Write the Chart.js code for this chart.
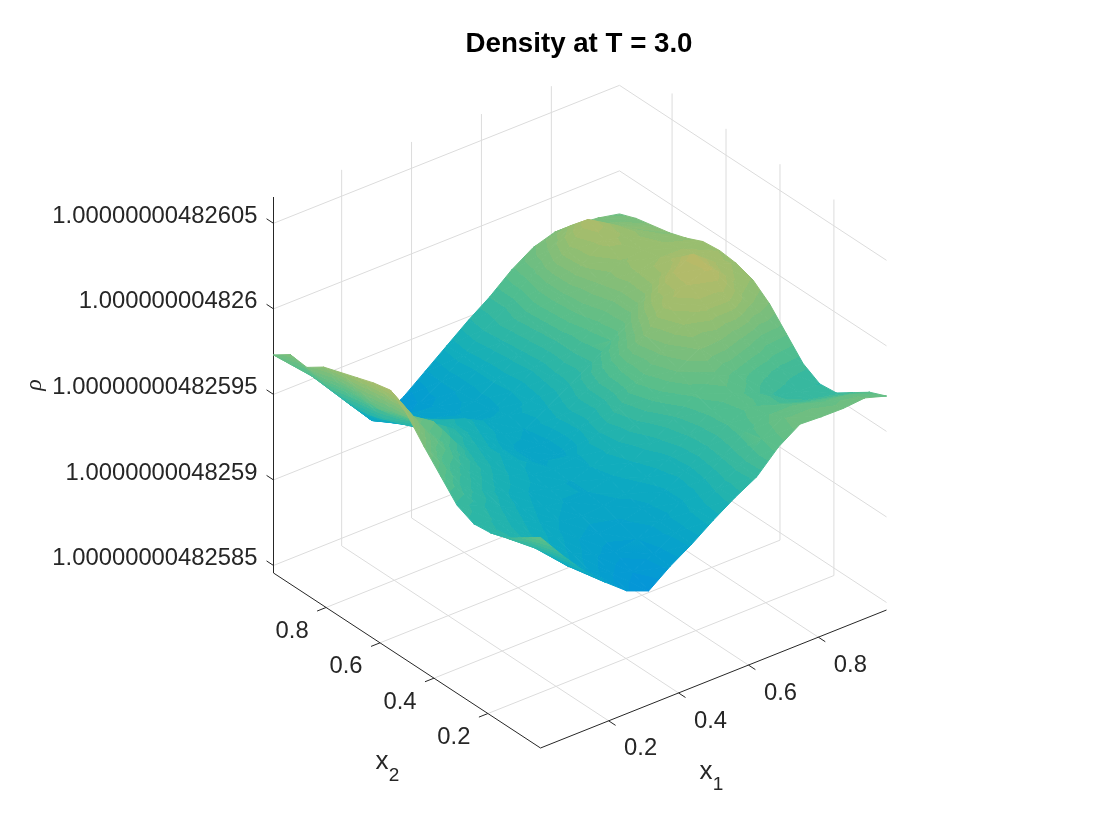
<!DOCTYPE html>
<html>
<head>
  <meta charset="UTF-8">
  <title>Density at T = 3.0</title>
  <script src="https://cdn.jsdelivr.net/npm/chart.js@4/dist/chart.umd.min.js"></script>
  <style>
    html, body { margin: 0; padding: 0; background: #fff; }
    #box { width: 1120px; height: 840px; }
  </style>
</head>
<body>
<div id="box"><canvas id="myChart" width="1120" height="840"></canvas></div>
<script>
// tick labels
var x1Ticks = [0.2, 0.4, 0.6, 0.8];
var x2Ticks = [0.2, 0.4, 0.6, 0.8];
var rhoTickLabels = ["1.00000000482585", "1.0000000048259", "1.00000000482595", "1.000000004826", "1.00000000482605"];
// where those ticks sit, as a share of the rho axis height
var rhoTicks = [0.02, 0.2475, 0.475, 0.7025, 0.93];

// surface values, as a share of the rho axis height
// one row per x2 step (bottom to top), one column per x1 step
var rows = [
  [.56, .49, .425, .372, .326, .303, .346, .382, .423, .46, .492, .548, .586, .583, .582, .587, .569],
  [.53, .47, .41, .375, .345, .325, .35, .385, .42, .455, .495, .54, .575, .575, .57, .565, .55],
  [.50, .46, .42, .39, .365, .35, .36, .385, .41, .445, .49, .53, .555, .555, .54, .53, .52],
  [.485, .46, .43, .405, .38, .37, .375, .39, .41, .44, .485, .525, .545, .53, .51, .50, .49],
  [.48, .465, .44, .415, .395, .385, .39, .40, .42, .445, .49, .53, .55, .53, .50, .49, .485],
  [.50, .475, .45, .425, .405, .395, .395, .41, .43, .46, .50, .545, .57, .55, .53, .515, .51],
  [.55, .50, .465, .435, .415, .40, .395, .415, .44, .48, .53, .58, .615, .61, .59, .565, .56],
  [.60, .53, .49, .455, .43, .41, .40, .41, .445, .495, .55, .60, .65, .675, .675, .635, .61],
  [.655, .58, .52, .47, .44, .42, .39, .385, .435, .48, .545, .615, .675, .705, .725, .67, .645],
  [.69, .59, .56, .48, .45, .42, .39, .385, .44, .48, .53, .58, .645, .70, .73, .685, .66],
  [.68, .58, .53, .50, .46, .43, .405, .395, .43, .465, .50, .54, .60, .655, .69, .68, .665],
  [.665, .56, .51, .46, .46, .44, .41, .405, .42, .46, .505, .55, .60, .65, .665, .665, .66],
  [.65, .56, .48, .46, .41, .41, .385, .39, .415, .455, .505, .565, .615, .645, .655, .65, .64],
  [.635, .55, .465, .42, .39, .38, .375, .385, .42, .46, .51, .57, .635, .675, .66, .64, .625],
  [.605, .53, .46, .395, .37, .37, .365, .38, .42, .465, .515, .57, .64, .70, .665, .63, .615],
  [.61, .53, .47, .40, .36, .33, .345, .38, .425, .47, .505, .56, .615, .655, .635, .615, .605],
  [.58, .54, .48, .41, .345, .30, .33, .375, .42, .465, .505, .553, .59, .608, .606, .60, .588]
];

// colour map: height -> rgb
var mapHeights = [.30, .36, .42, .48, .54, .60, .66, .72, .76];
var mapColors = [[5,148,218], [5,160,205], [15,172,190], [45,182,165], [85,190,140], [120,190,125], [155,190,110], [182,186,105], [190,184,100]];
var bandStep = 0.018;

// box corners on the page: front corner, then how far x1, x2 and rho go
function project(a, b, h) {
  return { x: 540.5 + 346 * a - 267 * b, y: 748 - 138 * a - 175 * b - 376 * h };
}
function tickPos(v) { return (v - 0.005) / 0.99; }

function colorAt(h) {
  var n = mapHeights.length;
  if (h <= mapHeights[0]) return mapColors[0];
  if (h >= mapHeights[n - 1]) return mapColors[n - 1];
  for (var i = 0; i < n - 1; i++) {
    if (h <= mapHeights[i + 1]) {
      var t = (h - mapHeights[i]) / (mapHeights[i + 1] - mapHeights[i]);
      return [0, 1, 2].map(function (k) {
        return Math.round(mapColors[i][k] + t * (mapColors[i + 1][k] - mapColors[i][k]));
      });
    }
  }
}
function bandColor(h) {
  var c = colorAt((Math.floor(h / bandStep) + 0.5) * bandStep);
  return "rgb(" + c[0] + "," + c[1] + "," + c[2] + ")";
}

// banded gradient across one triangle of the surface
function triangleFill(context) {
  var chart = context.chart, tri = context.dataset.heights;
  var sx = chart.scales.x, sy = chart.scales.y;
  if (!sx || !tri) return "#fff";
  var p = context.dataset.data.slice(0, 3).map(function (d) {
    return { x: sx.getPixelForValue(d.x), y: sy.getPixelForValue(d.y) };
  });
  var h0 = tri[0], h1 = tri[1], h2 = tri[2];
  var hMin = Math.min(h0, h1, h2), hMax = Math.max(h0, h1, h2);
  var dx1 = p[1].x - p[0].x, dy1 = p[1].y - p[0].y, dx2 = p[2].x - p[0].x, dy2 = p[2].y - p[0].y;
  var det = dx1 * dy2 - dx2 * dy1;
  // scales have no size yet on the first pass
  if (!isFinite(det) || Math.abs(det) < 1 || hMax - hMin < 1e-6) return bandColor((h0 + h1 + h2) / 3);
  var gx = ((h1 - h0) * dy2 - (h2 - h0) * dy1) / det;
  var gy = ((h2 - h0) * dx1 - (h1 - h0) * dx2) / det;
  var g2 = gx * gx + gy * gy;
  var grad = chart.ctx.createLinearGradient(
    p[0].x + gx * (hMin - h0) / g2, p[0].y + gy * (hMin - h0) / g2,
    p[0].x + gx * (hMax - h0) / g2, p[0].y + gy * (hMax - h0) / g2);
  grad.addColorStop(0, bandColor(hMin));
  var level = (Math.floor(hMin / bandStep) + 1) * bandStep;
  while (level < hMax) {
    var t = (level - hMin) / (hMax - hMin);
    grad.addColorStop(t, bandColor(level - bandStep / 2));
    grad.addColorStop(t, bandColor(level + bandStep / 2));
    level += bandStep;
  }
  grad.addColorStop(1, bandColor(hMax));
  return grad;
}

// surface datasets, nearest first so that far ones get painted first
var N = rows.length - 1;
var triangles = [];
function addTriangle(c) {
  var pts = c.map(function (v) { return project(v[0] / N, v[1] / N, rows[v[1]][v[0]]); });
  var depth = (pts[0].y + 376 * rows[c[0][1]][c[0][0]] + pts[1].y + 376 * rows[c[1][1]][c[1][0]] + pts[2].y + 376 * rows[c[2][1]][c[2][0]]) / 3;
  triangles.push({
    depth: depth,
    data: [pts[0], pts[1], pts[2], pts[0]],
    heights: c.map(function (v) { return rows[v[1]][v[0]]; })
  });
}
for (var j = 0; j < N; j++) {
  for (var i = 0; i < N; i++) {
    addTriangle([[i, j], [i + 1, j], [i, j + 1]]);
    addTriangle([[i + 1, j + 1], [i + 1, j], [i, j + 1]]);
  }
}
triangles.sort(function (p, q) { return q.depth - p.depth; });

var datasets = triangles.map(function (t) {
  return {
    data: t.data,
    heights: t.heights,
    showLine: true,
    tension: 0,
    pointRadius: 0,
    borderWidth: 1,
    fill: "shape",
    backgroundColor: triangleFill,
    borderColor: triangleFill
  };
});

function addLine(points, color) {
  datasets.push({
    data: points.map(function (p) { return project(p[0], p[1], p[2]); }),
    showLine: true,
    tension: 0,
    pointRadius: 0,
    borderWidth: 1,
    borderColor: color,
    fill: false
  });
}

// axes and their ticks go in front of the grid
var axisColor = "#262626", gridColor = "#dcdcdc";
addLine([[0, 0, 0], [1, 0, 0]], axisColor);
addLine([[0, 0, 0], [0, 1, 0]], axisColor);
addLine([[0, 1, 0], [0, 1, 1]], axisColor);
x1Ticks.forEach(function (v) { addLine([[tickPos(v), 0, 0], [tickPos(v), -0.026, 0]], axisColor); });
x2Ticks.forEach(function (v) { addLine([[0, tickPos(v), 0], [-0.026, tickPos(v), 0]], axisColor); });
rhoTicks.forEach(function (h) { addLine([[0, 1, h], [0, 1.026, h]], axisColor); });

x1Ticks.forEach(function (v) { addLine([[tickPos(v), 0, 0], [tickPos(v), 1, 0], [tickPos(v), 1, 1]], gridColor); });
x2Ticks.forEach(function (v) { addLine([[0, tickPos(v), 0], [1, tickPos(v), 0], [1, tickPos(v), 1]], gridColor); });
rhoTicks.forEach(function (h) { addLine([[0, 1, h], [1, 1, h], [1, 0, h]], gridColor); });

// the 3d axes have no scale of their own, so their text is written here
var axisText = {
  id: "axisText",
  afterDraw: function (chart) {
    var c = chart.ctx, sx = chart.scales.x, sy = chart.scales.y;
    function put(p) { return { x: sx.getPixelForValue(p.x), y: sy.getPixelForValue(p.y) }; }
    c.save();
    c.fillStyle = axisColor;
    c.font = "23.8px 'Liberation Sans'";
    c.textBaseline = "middle";
    c.textAlign = "center";
    x1Ticks.forEach(function (v) {
      var p = put(project(tickPos(v), 0, 0));
      c.fillText(String(v), p.x + 32, p.y + 28);
    });
    x2Ticks.forEach(function (v) {
      var p = put(project(0, tickPos(v), 0));
      c.fillText(String(v), p.x - 34, p.y + 24);
    });
    c.textAlign = "right";
    rhoTicks.forEach(function (h, k) {
      var p = put(project(0, 1, h));
      c.fillText(rhoTickLabels[k], p.x - 16, p.y - 7);
    });
    c.textAlign = "center";
    c.font = "26px 'Liberation Sans'";
    c.fillText("x", 706, 772);
    c.fillText("x", 382, 762);
    c.font = "19px 'Liberation Sans'";
    c.fillText("1", 718, 785);
    c.fillText("2", 394, 776);
    c.translate(35, 385);
    c.rotate(-Math.PI / 2);
    c.font = "italic 24px 'Liberation Serif'";
    c.fillText("\u03c1", 0, 0);
    c.restore();
  }
};

new Chart(document.getElementById("myChart"), {
  type: "scatter",
  data: { datasets: datasets },
  plugins: [axisText],
  options: {
    responsive: false,
    animation: false,
    layout: { padding: { left: 38 } },
    plugins: {
      legend: { display: false },
      tooltip: { enabled: false },
      filler: { drawTime: "beforeDatasetDraw" },
      title: {
        display: true,
        text: "Density at T = 3.0",
        color: "#000",
        font: { family: "'Liberation Sans'", size: 27.7, weight: "bold", lineHeight: 1.2 },
        padding: { top: 28, bottom: 4 }
      }
    },
    scales: {
      x: { type: "linear", display: false, min: 38, max: 1120 },
      y: { type: "linear", display: false, min: 65.24, max: 840, reverse: true }
    }
  }
});
</script>
</body>
</html>
